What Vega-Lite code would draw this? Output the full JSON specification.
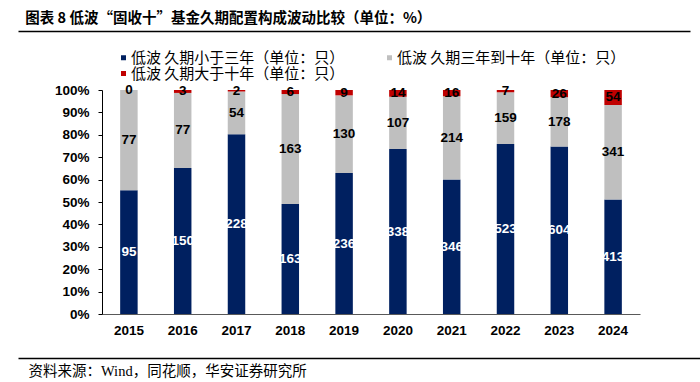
{
  "$schema": "https://vega.github.io/schema/vega-lite/v6.json",
  "autosize": {"type": "none"},
  "width": 538,
  "height": 224,
  "padding": {"left": 102, "top": 90, "right": 60, "bottom": 68},
  "background": "white",
  "title": {
    "text": "图表 8 低波“固收十”基金久期配置构成波动比较（单位：%）",
    "anchor": "start",
    "dx": 10,
    "offset": 5,
    "font": "Noto Sans CJK SC",
    "fontSize": 14.5,
    "fontWeight": "bold",
    "color": "#000000"
  },
  "config": {"view": {"stroke": null}, "font": "Liberation Sans"},
  "datasets": {
    "funds": [
      {"year": "2015", "series": "低波 久期小于三年（单位：只）", "rank": 1, "count": 95},
      {"year": "2015", "series": "低波 久期三年到十年（单位：只）", "rank": 2, "count": 77},
      {"year": "2015", "series": "低波 久期大于十年（单位：只）", "rank": 3, "count": 0},
      {"year": "2016", "series": "低波 久期小于三年（单位：只）", "rank": 1, "count": 150},
      {"year": "2016", "series": "低波 久期三年到十年（单位：只）", "rank": 2, "count": 77},
      {"year": "2016", "series": "低波 久期大于十年（单位：只）", "rank": 3, "count": 3},
      {"year": "2017", "series": "低波 久期小于三年（单位：只）", "rank": 1, "count": 228},
      {"year": "2017", "series": "低波 久期三年到十年（单位：只）", "rank": 2, "count": 54},
      {"year": "2017", "series": "低波 久期大于十年（单位：只）", "rank": 3, "count": 2},
      {"year": "2018", "series": "低波 久期小于三年（单位：只）", "rank": 1, "count": 163},
      {"year": "2018", "series": "低波 久期三年到十年（单位：只）", "rank": 2, "count": 163},
      {"year": "2018", "series": "低波 久期大于十年（单位：只）", "rank": 3, "count": 6},
      {"year": "2019", "series": "低波 久期小于三年（单位：只）", "rank": 1, "count": 236},
      {"year": "2019", "series": "低波 久期三年到十年（单位：只）", "rank": 2, "count": 130},
      {"year": "2019", "series": "低波 久期大于十年（单位：只）", "rank": 3, "count": 9},
      {"year": "2020", "series": "低波 久期小于三年（单位：只）", "rank": 1, "count": 338},
      {"year": "2020", "series": "低波 久期三年到十年（单位：只）", "rank": 2, "count": 107},
      {"year": "2020", "series": "低波 久期大于十年（单位：只）", "rank": 3, "count": 14},
      {"year": "2021", "series": "低波 久期小于三年（单位：只）", "rank": 1, "count": 346},
      {"year": "2021", "series": "低波 久期三年到十年（单位：只）", "rank": 2, "count": 214},
      {"year": "2021", "series": "低波 久期大于十年（单位：只）", "rank": 3, "count": 16},
      {"year": "2022", "series": "低波 久期小于三年（单位：只）", "rank": 1, "count": 523},
      {"year": "2022", "series": "低波 久期三年到十年（单位：只）", "rank": 2, "count": 159},
      {"year": "2022", "series": "低波 久期大于十年（单位：只）", "rank": 3, "count": 7},
      {"year": "2023", "series": "低波 久期小于三年（单位：只）", "rank": 1, "count": 604},
      {"year": "2023", "series": "低波 久期三年到十年（单位：只）", "rank": 2, "count": 178},
      {"year": "2023", "series": "低波 久期大于十年（单位：只）", "rank": 3, "count": 26},
      {"year": "2024", "series": "低波 久期小于三年（单位：只）", "rank": 1, "count": 413},
      {"year": "2024", "series": "低波 久期三年到十年（单位：只）", "rank": 2, "count": 341},
      {"year": "2024", "series": "低波 久期大于十年（单位：只）", "rank": 3, "count": 54}
    ],
    "rules": [{"p": 0}, {"p": 1}]
  },
  "layer": [
    {
      "data": {"name": "funds"},
      "encoding": {
        "x": {
          "field": "year",
          "type": "ordinal",
          "scale": {"paddingInner": 0.675, "paddingOuter": 0.3375},
          "axis": {
            "title": null,
            "labelAngle": 0,
            "ticks": false,
            "domainColor": "#595959",
            "domainWidth": 1,
            "labelFont": "Liberation Sans",
            "labelFontWeight": "bold",
            "labelFontSize": 13.5,
            "labelColor": "#000000",
            "labelPadding": 9
          }
        },
        "y": {
          "field": "count",
          "type": "quantitative",
          "stack": "normalize",
          "scale": {"domain": [0, 1]},
          "axis": {
            "title": null,
            "format": ".0%",
            "values": [0, 0.1, 0.2, 0.3, 0.4, 0.5, 0.6, 0.7, 0.8, 0.9, 1],
            "grid": false,
            "tickSize": 4,
            "tickColor": "#000000",
            "domainColor": "#000000",
            "labelFont": "Liberation Sans",
            "labelFontWeight": "bold",
            "labelFontSize": 13.5,
            "labelColor": "#000000",
            "labelPadding": 9
          }
        },
        "order": {"field": "rank", "type": "quantitative"}
      },
      "layer": [
        {
          "mark": {"type": "bar"},
          "encoding": {
            "color": {
              "field": "series",
              "type": "nominal",
              "scale": {
                "domain": ["低波 久期小于三年（单位：只）", "低波 久期三年到十年（单位：只）", "低波 久期大于十年（单位：只）"],
                "range": ["#002060", "#BFBFBF", "#C00000"]
              },
              "legend": {
                "title": null,
                "orient": "none",
                "legendX": 14,
                "legendY": -40,
                "direction": "horizontal",
                "columns": 2,
                "columnPadding": 37,
                "rowPadding": 0,
                "padding": 0,
                "symbolType": "square",
                "symbolSize": 25,
                "symbolStrokeWidth": 0,
                "labelFont": "Noto Sans CJK SC",
                "labelFontSize": 15,
                "labelColor": "#000000",
                "labelLimit": 320,
                "labelOffset": 0
              }
            }
          }
        },
        {
          "mark": {"type": "text", "font": "Liberation Sans", "fontWeight": "bold", "fontSize": 13.5, "baseline": "middle"},
          "encoding": {
            "y": {"field": "count", "type": "quantitative", "stack": "normalize", "bandPosition": 0.5},
            "detail": {"field": "series"},
            "text": {"field": "count", "type": "quantitative"},
            "color": {"condition": {"test": "datum.rank === 1", "value": "#FFFFFF"}, "value": "#000000"}
          }
        }
      ]
    },
    {
      "data": {"name": "rules"},
      "mark": {"type": "point", "opacity": 0},
      "encoding": {
        "x": {
          "field": "p",
          "type": "quantitative",
          "scale": {"domain": [0, 1], "range": [-84, 588]},
          "axis": {"orient": "top", "offset": 59, "labels": false, "ticks": false, "grid": false, "title": null, "domainColor": "#000000", "domainWidth": 1.5}
        }
      }
    },
    {
      "data": {"name": "rules"},
      "mark": {"type": "point", "opacity": 0},
      "encoding": {
        "x": {
          "field": "p",
          "type": "quantitative",
          "scale": {"domain": [0, 1], "range": [-84, 600]},
          "axis": {
            "orient": "bottom",
            "offset": 44,
            "labels": false,
            "ticks": false,
            "grid": false,
            "domainColor": "#000000",
            "domainWidth": 1.5,
            "title": "资料来源：Wind，同花顺，华安证券研究所",
            "titleX": -74,
            "titleY": 13,
            "titleAlign": "left",
            "titleAnchor": "start",
            "titleBaseline": "middle",
            "titleFont": "Liberation Serif, Noto Sans CJK SC",
            "titleFontSize": 14.5,
            "titleFontWeight": "normal",
            "titleColor": "#000000"
          }
        }
      }
    }
  ],
  "resolve": {"scale": {"x": "independent"}, "axis": {"x": "independent"}}
}
